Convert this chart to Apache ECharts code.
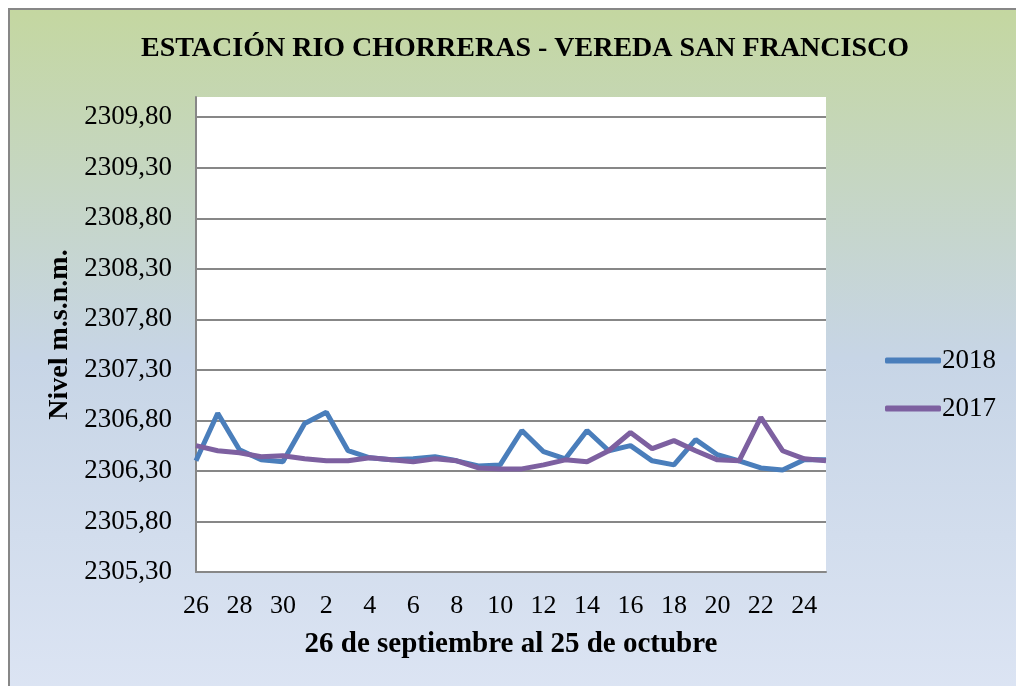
<!DOCTYPE html>
<html>
<head>
<meta charset="utf-8">
<script src="https://cdn.jsdelivr.net/npm/echarts@6/dist/echarts.min.js"></script>
<style>
html,body{margin:0;padding:0;background:#fff;}
#c{width:1016px;height:686px;}
</style>
</head>
<body>
<div id="c"></div>
<script>
var categories = ['26','27','28','29','30','1','2','3','4','5','6','7','8','9','10','11','12','13','14','15','16','17','18','19','20','21','22','23','24','25'];
var serie2018 = [2306.40,2306.87,2306.51,2306.41,2306.39,2306.77,2306.88,2306.50,2306.43,2306.41,2306.42,2306.44,2306.40,2306.35,2306.36,2306.70,2306.49,2306.42,2306.70,2306.50,2306.55,2306.40,2306.36,2306.61,2306.46,2306.40,2306.33,2306.31,2306.41,2306.41];
var serie2017 = [2306.55,2306.50,2306.48,2306.44,2306.45,2306.42,2306.40,2306.40,2306.43,2306.41,2306.39,2306.42,2306.40,2306.33,2306.32,2306.32,2306.36,2306.41,2306.39,2306.50,2306.68,2306.52,2306.60,2306.50,2306.41,2306.40,2306.83,2306.50,2306.42,2306.40];
var seriesNames = ['2018','2017'];
var titleText = 'ESTACIÓN RIO CHORRERAS - VEREDA SAN FRANCISCO';
var xAxisTitle = '26 de septiembre al 25 de octubre';
var yAxisTitle = 'Nivel m.s.n.m.';

var serif = '"Liberation Serif", "DejaVu Serif", serif';
var chart = echarts.init(document.getElementById('c'), null, {renderer:'canvas'});
chart.setOption({
  backgroundColor: '#ffffff',
  animation: false,
  graphic: [{
    type: 'rect', z: -100, silent: true,
    shape: {x: 9, y: 9, width: 1020, height: 700},
    style: {
      fill: new echarts.graphic.LinearGradient(0, 0, 0, 1, [
        {offset: 0, color: '#c4d7a0'},
        {offset: 0.5, color: '#c7d5e6'},
        {offset: 1, color: '#dde5f4'}
      ]),
      stroke: '#878787', lineWidth: 2
    }
  }],
  title: {
    text: titleText,
    left: 520, top: 30, textAlign: 'center',
    textStyle: {fontFamily: serif, fontWeight: 'bold', fontSize: 28, color: '#000'}
  },
  legend: {
    orient: 'vertical', left: 880, top: 342,
    itemWidth: 56, itemHeight: 6, itemGap: 21, icon: 'roundRect',
    textStyle: {fontFamily: serif, fontSize: 27, color: '#000', padding: [0,0,0,-4]},
    data: seriesNames
  },
  grid: {left: 196, top: 97, right: 190, bottom: 114, show: true, backgroundColor: '#ffffff', borderWidth: 0},
  xAxis: {
    type: 'category', data: categories, boundaryGap: false,
    name: xAxisTitle, nameLocation: 'middle', nameGap: 58,
    nameTextStyle: {fontFamily: serif, fontWeight: 'bold', fontSize: 29, color: '#000'},
    axisLine: {lineStyle: {color: '#878787', width: 2}},
    axisTick: {show: false},
    axisLabel: {interval: 1, margin: 21, fontFamily: serif, fontSize: 26, color: '#000'}
  },
  yAxis: {
    type: 'value', min: 2305.3, max: 2310.0, interval: 0.5,
    name: yAxisTitle, nameLocation: 'middle', nameGap: 122, nameRotate: 90,
    nameTextStyle: {fontFamily: serif, fontWeight: 'bold', fontSize: 28, color: '#000'},
    axisLine: {show: true, lineStyle: {color: '#878787', width: 2}},
    axisTick: {show: false},
    axisLabel: {margin: 24, fontFamily: serif, fontSize: 27, color: '#000', showMaxLabel: false,
      formatter: function (v) { return v.toFixed(2).replace('.', ','); }},
    splitLine: {show: true, showMaxLine: false, showMinLine: false, lineStyle: {color: '#878787', width: 2}}
  },
  series: [
    {name: seriesNames[0], type: 'line', data: serie2018, symbol: 'none', lineStyle: {color: '#4a7ebb', width: 5}, itemStyle: {color: '#4a7ebb'}},
    {name: seriesNames[1], type: 'line', data: serie2017, symbol: 'none', lineStyle: {color: '#7d60a0', width: 5}, itemStyle: {color: '#7d60a0'}}
  ]
});
</script>
</body>
</html>
